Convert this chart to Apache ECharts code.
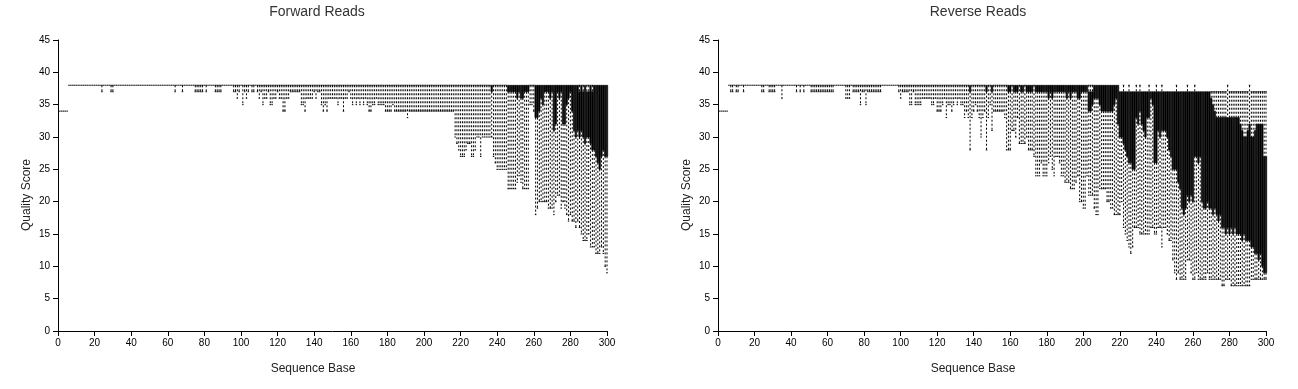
<!DOCTYPE html>
<html><head><meta charset="utf-8">
<script src="https://cdn.jsdelivr.net/npm/echarts@6/dist/echarts.min.js"></script>
<style>html,body{margin:0;padding:0;background:#fff}#c{width:1298px;height:389px}</style>
</head><body><div id="c"></div>
<script>
// Forward reads: per base (1..300) lower whisker, Q1, Q3, upper whisker
const fwdLow = [
34,34,34,34,34,38,38,38,38,38, 38,38,38,38,38,38,38,38,38,38,
38,38,38,37,38,38,38,38,37,37, 38,38,38,38,38,38,38,38,38,38,
38,38,38,38,38,38,38,38,38,38, 38,38,38,38,38,38,38,38,38,38,
38,38,38,37,38,38,38,37,38,38, 38,38,38,38,37,37,37,37,37,38,
37,38,38,38,38,37,37,37,37,38, 38,38,38,38,38,37,37,36,37,38,
35,37,36,37,38,37,37,38,37,36, 37,35,36,36,37,35,35,36,36,37,
36,36,34,34,36,36,37,37,37,37, 37,37,35,35,34,36,36,36,36,37,
36,37,37,35,34,35,34,36,36,36, 36,36,35,36,36,34,36,36,37,36,
35,36,35,36,35,36,35,36,35,34, 34,35,35,36,35,35,35,35,34,34,
34,34,35,34,34,34,34,34,34,34, 33,34,34,34,34,34,34,34,34,34,
34,34,34,34,34,34,34,34,34,34, 34,34,34,34,34,34,30,29,28,27,
27,27,28,29,29,27,27,28,30,30, 27,30,30,30,30,30,30,27,26,25,
25,25,25,25,25,22,22,22,22,22, 23,24,23,22,22,22,22,35,35,34,
18,19,20,20,20,20,20,19,19,19, 18,20,21,21,19,20,19,18,17,18,
17,17,16,17,16,15,14,14,14,15, 13,13,13,12,12,12,13,12,10,9
];
const fwdQ1 = [
34,34,34,34,34,38,38,38,38,38, 38,38,38,38,38,38,38,38,38,38,
38,38,38,38,38,38,38,38,38,38, 38,38,38,38,38,38,38,38,38,38,
38,38,38,38,38,38,38,38,38,38, 38,38,38,38,38,38,38,38,38,38,
38,38,38,38,38,38,38,38,38,38, 38,38,38,38,38,38,38,38,38,38,
38,38,38,38,38,38,38,38,38,38, 38,38,38,38,38,38,38,38,38,38,
38,38,38,38,38,38,38,38,38,38, 38,38,38,38,38,38,38,38,38,38,
38,38,38,38,38,38,38,38,38,38, 38,38,38,38,38,38,38,38,38,38,
38,38,38,38,38,38,38,38,38,38, 38,38,38,38,38,38,38,38,38,38,
38,38,38,38,38,38,38,38,38,38, 38,38,38,38,38,38,38,38,38,38,
38,38,38,38,38,38,38,38,38,38, 38,38,38,38,38,38,38,38,38,38,
38,38,38,38,38,38,38,38,38,38, 38,38,38,38,38,38,38,38,38,38,
38,38,38,38,38,38,38,38,38,38, 38,38,38,38,38,38,37,38,38,38,
38,38,38,38,38,37,37,37,37,37, 36,37,36,36,37,37,37,38,38,38,
33,33,34,36,35,37,37,37,36,37, 31,32,37,36,37,32,32,35,36,37,
34,31,30,31,30,31,30,29,30,30, 29,28,28,27,26,25,27,28,27,27
];
const fwdQ3 = [
34,34,34,34,34,38,38,38,38,38, 38,38,38,38,38,38,38,38,38,38,
38,38,38,38,38,38,38,38,38,38, 38,38,38,38,38,38,38,38,38,38,
38,38,38,38,38,38,38,38,38,38, 38,38,38,38,38,38,38,38,38,38,
38,38,38,38,38,38,38,38,38,38, 38,38,38,38,38,38,38,38,38,38,
38,38,38,38,38,38,38,38,38,38, 38,38,38,38,38,38,38,38,38,38,
38,38,38,38,38,38,38,38,38,38, 38,38,38,38,38,38,38,38,38,38,
38,38,38,38,38,38,38,38,38,38, 38,38,38,38,38,38,38,38,38,38,
38,38,38,38,38,38,38,38,38,38, 38,38,38,38,38,38,38,38,38,38,
38,38,38,38,38,38,38,38,38,38, 38,38,38,38,38,38,38,38,38,38,
38,38,38,38,38,38,38,38,38,38, 38,38,38,38,38,38,38,38,38,38,
38,38,38,38,38,38,38,38,38,38, 38,38,38,38,38,38,38,38,38,38,
38,38,38,38,38,38,38,38,38,38, 38,38,38,38,38,38,38,38,38,38,
38,38,38,38,38,38,38,38,38,38, 38,38,38,38,38,38,38,38,38,38,
38,38,38,38,38,38,38,38,38,38, 38,38,38,38,38,38,38,38,38,38,
38,38,38,38,37,38,37,38,37,37, 38,37,38,38,38,38,38,38,38,38
];
const fwdHigh = [
34,34,34,34,34,38,38,38,38,38, 38,38,38,38,38,38,38,38,38,38,
38,38,38,38,38,38,38,38,38,38, 38,38,38,38,38,38,38,38,38,38,
38,38,38,38,38,38,38,38,38,38, 38,38,38,38,38,38,38,38,38,38,
38,38,38,38,38,38,38,38,38,38, 38,38,38,38,38,38,38,38,38,38,
38,38,38,38,38,38,38,38,38,38, 38,38,38,38,38,38,38,38,38,38,
38,38,38,38,38,38,38,38,38,38, 38,38,38,38,38,38,38,38,38,38,
38,38,38,38,38,38,38,38,38,38, 38,38,38,38,38,38,38,38,38,38,
38,38,38,38,38,38,38,38,38,38, 38,38,38,38,38,38,38,38,38,38,
38,38,38,38,38,38,38,38,38,38, 38,38,38,38,38,38,38,38,38,38,
38,38,38,38,38,38,38,38,38,38, 38,38,38,38,38,38,38,38,38,38,
38,38,38,38,38,38,38,38,38,38, 38,38,38,38,38,38,38,38,38,38,
38,38,38,38,38,38,38,38,38,38, 38,38,38,38,38,38,38,38,38,38,
38,38,38,38,38,38,38,38,38,38, 38,38,38,38,38,38,38,38,38,38,
38,38,38,38,38,38,38,38,38,38, 38,38,38,38,38,38,38,38,38,38,
38,38,38,38,38,38,38,38,38,38, 38,38,38,38,38,38,38,38,38,38
];

// Reverse reads
const revLow = [
34,34,34,34,34,38,37,37,38,37, 37,38,38,37,38,38,38,38,38,38,
38,38,38,37,37,38,38,37,37,37, 37,38,38,38,36,38,38,38,38,38,
38,38,37,38,37,38,37,38,38,38, 37,37,37,37,37,37,37,37,37,37,
37,37,37,38,38,38,38,38,38,36, 36,36,38,37,37,37,37,35,37,37,
35,37,37,37,37,37,37,37,37,38, 38,38,38,38,38,38,38,38,37,36,
37,37,37,37,35,35,37,35,35,35, 35,36,36,36,36,36,35,35,36,34,
34,34,35,36,33,35,35,34,35,36, 35,36,35,35,33,34,33,28,33,34,
35,34,33,30,33,34,28,33,35,31, 34,34,34,34,34,34,33,28,28,28,
31,31,30,33,29,29,29,29,30,28, 28,28,27,24,24,24,26,24,24,24,
26,27,25,24,27,27,26,24,24,23, 23,23,22,22,22,23,24,20,20,19,
19,24,21,21,21,19,18,18,22,22, 22,22,20,20,19,19,18,18,18,18,
20,16,15,14,13,12,13,16,16,16, 15,15,15,15,15,15,16,16,15,15,
16,16,13,16,16,15,14,14,11,9, 8,9,8,8,8,8,11,11,9,8,
8,9,8,8,8,8,8,9,8,8, 8,8,8,8,8,7,7,8,8,8,
7,7,7,7,7,7,7,7,7,7, 7,8,8,8,8,8,8,8,8,8
];
const revQ1 = [
34,34,34,34,34,38,38,38,38,38, 38,38,38,38,38,38,38,38,38,38,
38,38,38,38,38,38,38,38,38,38, 38,38,38,38,38,38,38,38,38,38,
38,38,38,38,38,38,38,38,38,38, 38,38,38,38,38,38,38,38,38,38,
38,38,38,38,38,38,38,38,38,38, 38,38,38,38,38,38,38,38,38,38,
38,38,38,38,38,38,38,38,38,38, 38,38,38,38,38,38,38,38,38,38,
38,38,38,38,38,38,38,38,38,38, 38,38,38,38,38,38,38,38,38,38,
38,38,38,38,38,38,38,38,38,38, 38,38,38,38,38,38,38,37,38,38,
38,38,38,38,38,38,37,38,38,37, 38,38,38,38,38,38,38,38,37,37,
38,37,37,37,38,37,37,38,37,37, 37,37,38,37,37,37,37,37,37,37,
36,37,36,37,37,37,37,37,37,37, 36,37,36,37,37,37,36,36,37,37,
37,37,34,34,35,36,36,36,35,34, 34,34,34,34,34,34,35,36,32,30,
30,29,28,27,26,26,25,25,33,32, 34,32,31,30,33,33,36,35,26,26,
31,30,31,31,31,30,28,27,25,25, 25,23,22,19,18,19,21,20,21,20,
27,27,26,27,20,19,19,20,19,19, 18,19,18,17,18,16,16,15,16,15,
16,15,16,15,15,15,14,15,14,14, 14,13,13,12,12,11,12,10,9,9
];
const revQ3 = [
34,34,34,34,34,38,38,38,38,38, 38,38,38,38,38,38,38,38,38,38,
38,38,38,38,38,38,38,38,38,38, 38,38,38,38,38,38,38,38,38,38,
38,38,38,38,38,38,38,38,38,38, 38,38,38,38,38,38,38,38,38,38,
38,38,38,38,38,38,38,38,38,38, 38,38,38,38,38,38,38,38,38,38,
38,38,38,38,38,38,38,38,38,38, 38,38,38,38,38,38,38,38,38,38,
38,38,38,38,38,38,38,38,38,38, 38,38,38,38,38,38,38,38,38,38,
38,38,38,38,38,38,38,38,38,38, 38,38,38,38,38,38,38,38,38,38,
38,38,38,38,38,38,38,38,38,38, 38,38,38,38,38,38,38,38,38,38,
38,38,38,38,38,38,38,38,38,38, 38,38,38,38,38,38,38,38,38,38,
38,38,38,38,38,38,38,38,38,38, 38,38,38,38,38,38,38,38,38,38,
38,38,37,37,37,38,38,38,38,38, 38,38,38,38,38,38,38,38,38,37,
37,37,37,37,37,37,37,37,37,37, 37,37,37,37,37,37,37,37,37,37,
37,37,37,37,37,37,37,37,37,37, 37,37,37,37,37,37,37,37,37,37,
37,37,37,37,37,37,37,37,37,36, 35,34,33,33,33,33,33,33,33,33,
33,33,33,33,33,32,31,30,30,31, 32,30,30,31,32,32,32,32,27,27
];
const revHigh = [
34,34,34,34,34,38,38,38,38,38, 38,38,38,38,38,38,38,38,38,38,
38,38,38,38,38,38,38,38,38,38, 38,38,38,38,38,38,38,38,38,38,
38,38,38,38,38,38,38,38,38,38, 38,38,38,38,38,38,38,38,38,38,
38,38,38,38,38,38,38,38,38,38, 38,38,38,38,38,38,38,38,38,38,
38,38,38,38,38,38,38,38,38,38, 38,38,38,38,38,38,38,38,38,38,
38,38,38,38,38,38,38,38,38,38, 38,38,38,38,38,38,38,38,38,38,
38,38,38,38,38,38,38,38,38,38, 38,38,38,38,38,38,38,38,38,38,
38,38,38,38,38,38,38,38,38,38, 38,38,38,38,38,38,38,38,38,38,
38,38,38,38,38,38,38,38,38,38, 38,38,38,38,38,38,38,38,38,38,
38,38,38,38,38,38,38,38,38,38, 38,38,38,38,38,38,38,38,38,38,
38,38,38,38,38,38,38,38,38,38, 38,38,38,38,38,38,38,38,38,37,
37,38,37,37,38,37,37,37,38,37, 38,37,37,37,37,38,37,37,37,38,
37,37,38,37,37,37,37,37,37,37, 38,37,37,37,37,37,38,37,37,37,
38,37,37,37,37,37,37,37,37,37, 37,37,37,37,37,37,37,37,38,37,
37,37,37,37,37,37,37,37,37,37, 38,37,37,37,37,37,37,37,37,37
];

const xTicks = {min: 0, max: 300, interval: 20};
const yTicks = {min: 0, max: 45, interval: 5};
const titles = ['Forward Reads', 'Reverse Reads'];
const xName = 'Sequence Base';
const yName = 'Quality Score';

function rows(low, q1, q3, high) {
  return low.map((v, i) => [i + 1, v, q1[i], q3[i], high[i]]);
}

function renderBox(params, api) {
  const b = api.value(0);
  const pLow = api.coord([b, api.value(1)]);
  const pQ1 = api.coord([b, api.value(2)]);
  const pQ3 = api.coord([b, api.value(3)]);
  const pHigh = api.coord([b, api.value(4)]);
  const w = api.size([1, 0])[0] * 0.8;
  const x = pLow[0];
  const dash = {stroke: '#000', lineWidth: 1, lineDash: [2, 2], fill: null};
  const solid = {stroke: '#000', lineWidth: 1, fill: null};
  const children = [];
  if (pLow[1] - pQ1[1] > 0.5) {
    children.push({type: 'line', shape: {x1: x, y1: pQ1[1], x2: x, y2: pLow[1]}, style: dash});
    children.push({type: 'line', shape: {x1: x - w / 2, y1: pLow[1], x2: x + w / 2, y2: pLow[1]}, style: solid});
  }
  if (pQ3[1] - pHigh[1] > 0.5) {
    children.push({type: 'line', shape: {x1: x, y1: pHigh[1], x2: x, y2: pQ3[1]}, style: dash});
    children.push({type: 'line', shape: {x1: x - w / 2, y1: pHigh[1], x2: x + w / 2, y2: pHigh[1]}, style: solid});
  }
  children.push({type: 'rect', shape: {x: x - w / 2, y: pQ3[1], width: w, height: Math.max(pQ1[1] - pQ3[1], 0)},
    style: {fill: '#000', stroke: '#000', lineWidth: 0.6}});
  return {type: 'group', children};
}

const font = '"Liberation Sans", Arial, sans-serif';
function xAxis(i) {
  return {gridIndex: i, type: 'value', min: xTicks.min, max: xTicks.max, interval: xTicks.interval,
    axisLine: {show: true, onZero: false, lineStyle: {color: '#000', width: 1}},
    axisTick: {show: true, length: 5, lineStyle: {color: '#000'}},
    axisLabel: {fontSize: 10, color: '#000', fontFamily: font, margin: 7},
    splitLine: {show: false}};
}
function yAxis(i) {
  return {gridIndex: i, type: 'value', min: yTicks.min, max: yTicks.max, interval: yTicks.interval,
    axisLine: {show: true, onZero: false, lineStyle: {color: '#000', width: 1}},
    axisTick: {show: true, length: 5, lineStyle: {color: '#000'}},
    axisLabel: {fontSize: 10, color: '#000', fontFamily: font, margin: 8},
    splitLine: {show: false}};
}
function txt(x, y, s, size, color, rot) {
  return {type: 'text', x: x, y: y, rotation: rot || 0, silent: true,
    style: {text: s, textAlign: 'center', textVerticalAlign: 'middle', fill: color,
      font: size + 'px ' + font}};
}

const chart = echarts.init(document.getElementById('c'), null, {renderer: 'canvas'});
chart.setOption({
  animation: false,
  backgroundColor: '#fff',
  grid: [
    {left: 58, top: 40, width: 549, height: 291},
    {left: 718, top: 40, width: 548, height: 291}
  ],
  xAxis: [xAxis(0), xAxis(1)],
  yAxis: [yAxis(0), yAxis(1)],
  graphic: [
    txt(317, 12, titles[0], 14, '#333'),
    txt(978, 12, titles[1], 14, '#333'),
    txt(313, 369, xName, 12, '#222'),
    txt(973, 369, xName, 12, '#222'),
    txt(27, 195, yName, 12, '#222', Math.PI / 2),
    txt(687, 195, yName, 12, '#222', Math.PI / 2)
  ],
  series: [
    {type: 'custom', xAxisIndex: 0, yAxisIndex: 0, clip: false, renderItem: renderBox,
      encode: {x: 0, y: [1, 2, 3, 4]}, data: rows(fwdLow, fwdQ1, fwdQ3, fwdHigh)},
    {type: 'custom', xAxisIndex: 1, yAxisIndex: 1, clip: false, renderItem: renderBox,
      encode: {x: 0, y: [1, 2, 3, 4]}, data: rows(revLow, revQ1, revQ3, revHigh)}
  ]
});
</script>
</body></html>
